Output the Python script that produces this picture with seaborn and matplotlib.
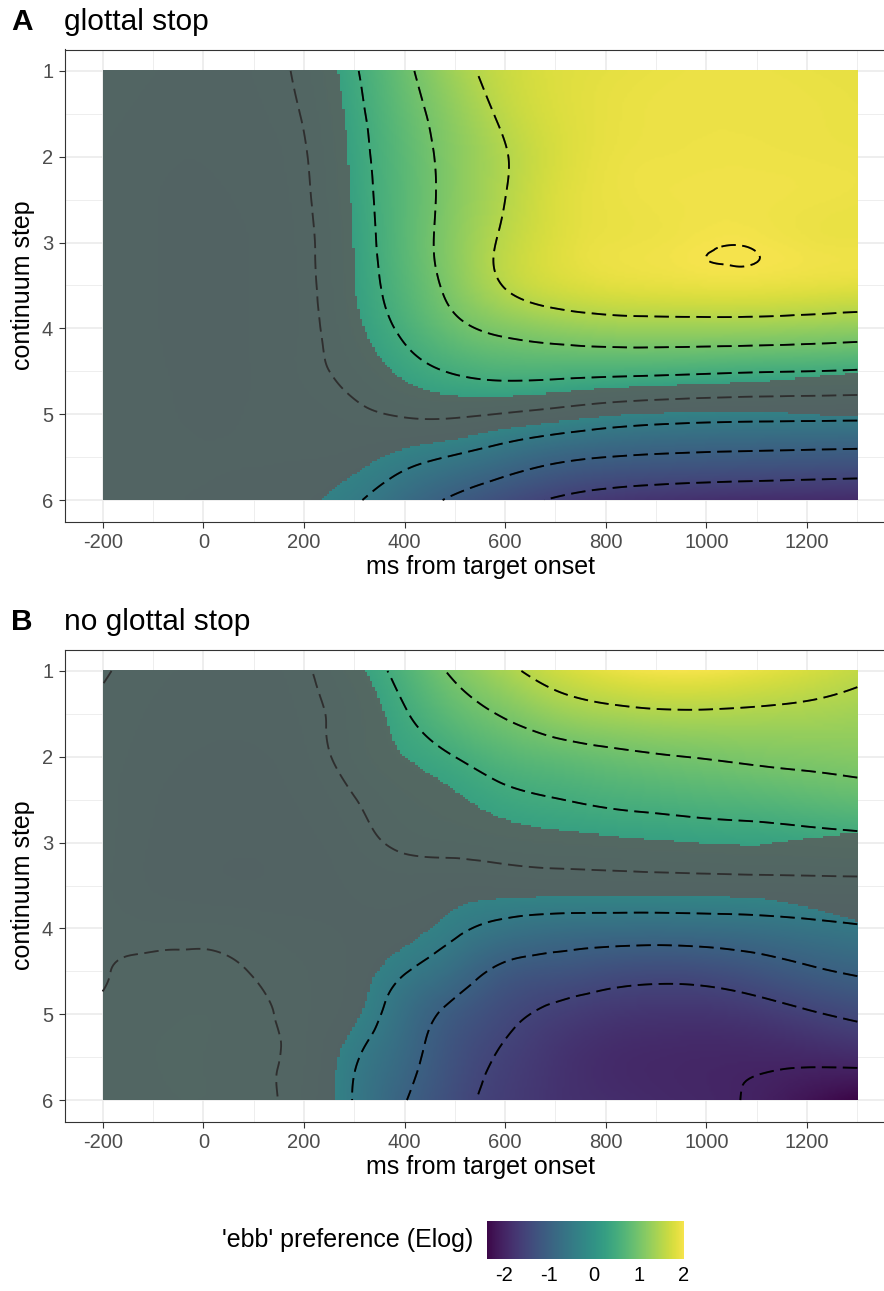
import matplotlib
matplotlib.use("Agg")
import matplotlib.pyplot as plt
import matplotlib.tri as mtri
import numpy as np
import seaborn as sns
from matplotlib.colors import ListedColormap

# grid of the fitted surface
TIME_MS = [-200, -100, 0, 100, 200, 300, 400, 500, 600, 700, 800, 900, 1000, 1100, 1200, 1300]
STEPS = [1.0, 1.5, 2.0, 2.5, 3.0, 3.5, 4.0, 4.5, 5.0, 5.5, 6.0]

GLOTTAL_Z = [
    [-0.05, -0.10, -0.12, -0.10, 0.07, 0.46, 0.91, 1.35, 1.65, 1.80, 1.86, 1.90, 1.92, 1.92, 1.90, 1.88],
    [-0.08, -0.14, -0.17, -0.12, 0.02, 0.40, 0.83, 1.22, 1.57, 1.78, 1.88, 1.92, 1.93, 1.93, 1.92, 1.90],
    [-0.10, -0.18, -0.20, -0.15, -0.02, 0.36, 0.77, 1.15, 1.48, 1.75, 1.89, 1.93, 1.94, 1.94, 1.93, 1.92],
    [-0.10, -0.20, -0.23, -0.18, -0.04, 0.33, 0.75, 1.15, 1.50, 1.78, 1.90, 1.94, 1.955, 1.955, 1.94, 1.92],
    [-0.10, -0.20, -0.24, -0.20, -0.06, 0.30, 0.75, 1.18, 1.56, 1.80, 1.91, 1.94, 1.985, 1.985, 1.94, 1.92],
    [-0.10, -0.20, -0.24, -0.20, -0.07, 0.28, 0.70, 1.13, 1.52, 1.73, 1.83, 1.87, 1.90, 1.90, 1.87, 1.84],
    [-0.10, -0.20, -0.24, -0.20, -0.08, 0.22, 0.57, 0.90, 1.10, 1.22, 1.29, 1.31, 1.31, 1.30, 1.27, 1.23],
    [-0.10, -0.19, -0.23, -0.20, -0.08, 0.10, 0.35, 0.53, 0.62, 0.62, 0.60, 0.58, 0.55, 0.52, 0.50, 0.47],
    [-0.10, -0.18, -0.22, -0.20, -0.15, -0.06, 0.03, 0.05, -0.02, -0.12, -0.23, -0.30, -0.34, -0.36, -0.37, -0.38],
    [-0.10, -0.17, -0.20, -0.20, -0.20, -0.24, -0.38, -0.53, -0.72, -0.90, -1.00, -1.05, -1.08, -1.10, -1.12, -1.14],
    [-0.12, -0.18, -0.22, -0.25, -0.30, -0.46, -0.76, -1.07, -1.33, -1.54, -1.68, -1.76, -1.81, -1.84, -1.86, -1.88],
]

NO_GLOTTAL_Z = [
    [0.02, -0.08, -0.12, -0.12, -0.04, 0.27, 0.64, 1.07, 1.40, 1.68, 1.87, 1.97, 1.97, 1.88, 1.75, 1.60],
    [-0.03, -0.12, -0.17, -0.17, -0.08, 0.15, 0.47, 0.80, 1.04, 1.26, 1.38, 1.44, 1.45, 1.43, 1.40, 1.35],
    [-0.05, -0.16, -0.22, -0.22, -0.12, 0.12, 0.33, 0.50, 0.70, 0.81, 0.90, 0.97, 1.02, 1.07, 1.10, 1.13],
    [-0.06, -0.20, -0.26, -0.26, -0.18, -0.01, 0.17, 0.28, 0.41, 0.49, 0.56, 0.61, 0.66, 0.70, 0.76, 0.82],
    [-0.06, -0.22, -0.28, -0.29, -0.24, -0.10, 0.05, 0.10, 0.16, 0.20, 0.23, 0.26, 0.29, 0.31, 0.34, 0.375],
    [-0.08, -0.22, -0.28, -0.30, -0.26, -0.19, -0.15, -0.19, -0.18, -0.16, -0.15, -0.14, -0.13, -0.12, -0.11, -0.10],
    [-0.04, -0.08, -0.08, -0.12, -0.18, -0.22, -0.27, -0.43, -0.61, -0.70, -0.73, -0.74, -0.72, -0.68, -0.61, -0.54],
    [-0.01, 0.04, 0.05, -0.01, -0.10, -0.24, -0.48, -0.77, -1.10, -1.22, -1.31, -1.36, -1.33, -1.22, -1.07, -0.95],
    [0.02, 0.08, 0.10, 0.05, -0.09, -0.30, -0.72, -1.12, -1.40, -1.58, -1.70, -1.75, -1.75, -1.68, -1.55, -1.42],
    [0.03, 0.10, 0.10, 0.05, -0.10, -0.46, -0.85, -1.28, -1.55, -1.75, -1.88, -1.93, -1.95, -1.95, -1.93, -1.88],
    [0.03, 0.09, 0.10, 0.07, -0.13, -0.52, -0.98, -1.37, -1.62, -1.78, -1.86, -1.92, -1.96, -2.03, -2.20, -2.38],
]

# half-width of the confidence band (coarser grid); inside it the surface is greyed out
CI_TIME = [-200, 300, 700, 1100, 1300]
CI_STEPS = [1.0, 3.5, 6.0]
GLOTTAL_CI = [
    [0.35, 0.31, 0.32, 0.34, 0.45],
    [0.33, 0.28, 0.27, 0.30, 0.42],
    [0.35, 0.33, 0.27, 0.30, 0.45],
]
NO_GLOTTAL_CI = [
    [0.35, 0.34, 0.30, 0.30, 0.50],
    [0.33, 0.36, 0.28, 0.27, 0.47],
    [0.35, 0.33, 0.30, 0.30, 0.50],
]

PANELS = [("A", "glottal stop", GLOTTAL_Z, GLOTTAL_CI),
          ("B", "no glottal stop", NO_GLOTTAL_Z, NO_GLOTTAL_CI)]

CONTOUR_LEVELS = [-2.0, -1.5, -1.0, -0.5, 0.0, 0.5, 1.0, 1.5, 2.0]
VMIN, VMAX = -2.38, 2.0
CBAR_TICKS = [-2, -1, 0, 1, 2]
XMAJOR = [-200, 0, 200, 400, 600, 800, 1000, 1200]
XMINOR = [-100, 100, 300, 500, 700, 900, 1100, 1300]
YMAJOR = [1, 2, 3, 4, 5, 6]
YMINOR = [1.5, 2.5, 3.5, 4.5, 5.5]


def grid_interpolator(xs, ys, zz, cubic=True):
    xs = np.asarray(xs, float) / 100.0
    ys = np.asarray(ys, float)
    zz = np.asarray(zz, float)
    ny, nx = zz.shape
    X, Y = np.meshgrid(xs, ys)
    idx = np.arange(nx * ny).reshape(ny, nx)
    a = idx[:-1, :-1].ravel()
    b = idx[:-1, 1:].ravel()
    c = idx[1:, :-1].ravel()
    d = idx[1:, 1:].ravel()
    tris = np.concatenate([np.stack([a, b, d], 1), np.stack([a, d, c], 1)])
    tri = mtri.Triangulation(X.ravel(), Y.ravel(), tris)
    if cubic:
        f = mtri.CubicTriInterpolator(tri, zz.ravel(), kind="min_E")
    else:
        f = mtri.LinearTriInterpolator(tri, zz.ravel())
    return lambda gx, gy: np.ma.filled(f(gx / 100.0, gy), np.nan)


sns.set_theme(style="white")
plt.rcParams["font.family"] = ["Liberation Sans", "DejaVu Sans"]
plt.rcParams["axes.unicode_minus"] = False
plt.rcParams["lines.dashed_pattern"] = [8.0, 3.6]
plt.rcParams["text.color"] = "black"
plt.rcParams["axes.labelcolor"] = "black"

# viridis, slightly muted like the original render
vir = np.array(sns.color_palette("viridis", 256))
lum = vir @ np.array([0.3, 0.59, 0.11])
cmap = ListedColormap(0.78 * vir + 0.22 * lum[:, None])

fig = plt.figure(figsize=(8.84, 12.91), dpi=100)

W, H = 884.0, 1291.0
panel_tops = [49.5, 649.5]
panel_h = 472.0

# evaluation points for drawing
fx = np.linspace(-199.99, 1299.99, 301)
fy = np.linspace(1.0001, 5.9999, 201)
FX, FY = np.meshgrid(fx, fy)
mx = np.linspace(-199.99 + 2.5, 1299.99 - 2.5, 300)
my = np.linspace(1.0001 + 0.0125, 5.9999 - 0.0125, 200)
MX, MY = np.meshgrid(mx, my)

for (letter, title, zz, ci), top in zip(PANELS, panel_tops):
    ax = fig.add_axes([65 / W, 1 - (top + panel_h) / H, 830 / W, panel_h / H])
    surf = grid_interpolator(TIME_MS, STEPS, zz)
    band = grid_interpolator(CI_TIME, CI_STEPS, ci, cubic=False)

    Z = surf(FX, FY)
    ax.imshow(Z, extent=(-200, 1300, 6, 1), cmap=cmap, vmin=VMIN, vmax=VMAX,
              interpolation="bilinear", aspect="auto", zorder=1)
    ax.contour(fx, fy, Z, levels=CONTOUR_LEVELS, colors="black",
               linewidths=1.3, linestyles="dashed", zorder=2)

    # grey veil where the band includes zero
    MZ = surf(MX, MY)
    MC = band(MX, MY)
    veil = np.zeros(MZ.shape + (4,))
    veil[..., :3] = 0.36
    veil[..., 3] = np.where(np.abs(MZ) < MC, 0.8, 0.0)
    ax.imshow(veil, extent=(-200, 1300, 6, 1), interpolation="nearest",
              aspect="auto", zorder=3)
    # faint pass so the lines under the veil stay dark
    ax.contour(fx, fy, Z, levels=CONTOUR_LEVELS, colors="black", alpha=0.35,
               linewidths=1.3, linestyles="dashed", zorder=4)

    ax.set_xlim(-275, 1375)
    ax.set_ylim(6.25, 0.75)
    ax.set_xticks(XMAJOR)
    ax.set_xticks(XMINOR, minor=True)
    ax.set_yticks(YMAJOR)
    ax.set_yticks(YMINOR, minor=True)
    ax.set_xticklabels([str(v) for v in XMAJOR])
    ax.set_yticklabels([str(v) for v in YMAJOR])
    ax.grid(which="major", color="#EBEBEB", linewidth=1.2, zorder=0)
    ax.grid(which="minor", color="#EBEBEB", linewidth=0.6, zorder=0)
    ax.set_axisbelow(True)
    ax.tick_params(which="major", length=4.5, width=0.8, color="#333333",
                   labelsize=14.5, labelcolor="#4D4D4D", left=True, bottom=True)
    ax.tick_params(axis="x", pad=4)
    ax.tick_params(axis="y", pad=4)
    ax.tick_params(which="minor", length=0)
    for sp in ax.spines.values():
        sp.set_color("#333333")
        sp.set_linewidth(0.8)
    ax.set_xlabel("ms from target onset", fontsize=18, labelpad=2)
    ax.set_ylabel("continuum step", fontsize=18, labelpad=5)

    base = 1 - (top - 19.5) / H
    fig.text(11 / W, base, letter, fontsize=21.5, fontweight="bold", va="baseline")
    fig.text(64 / W, base, title, fontsize=21.5, va="baseline")

# colour bar legend
cax = fig.add_axes([487 / W, 1 - 1259 / H, 197 / W, 38 / H])
sm = plt.cm.ScalarMappable(cmap=cmap, norm=plt.Normalize(VMIN, VMAX))
cbar = fig.colorbar(sm, cax=cax, orientation="horizontal", ticks=CBAR_TICKS)
cbar.outline.set_visible(False)
cbar.ax.set_xticklabels([str(v) for v in CBAR_TICKS])
cax.tick_params(axis="x", direction="in", length=7, width=1, color="white",
                labelcolor="black", labelsize=14.5, top=True, bottom=True, pad=5)
fig.text(473 / W, 1 - 1240 / H, "'ebb' preference (Elog)", fontsize=18,
         ha="right", va="center")

fig.savefig("out.png", dpi=100)
